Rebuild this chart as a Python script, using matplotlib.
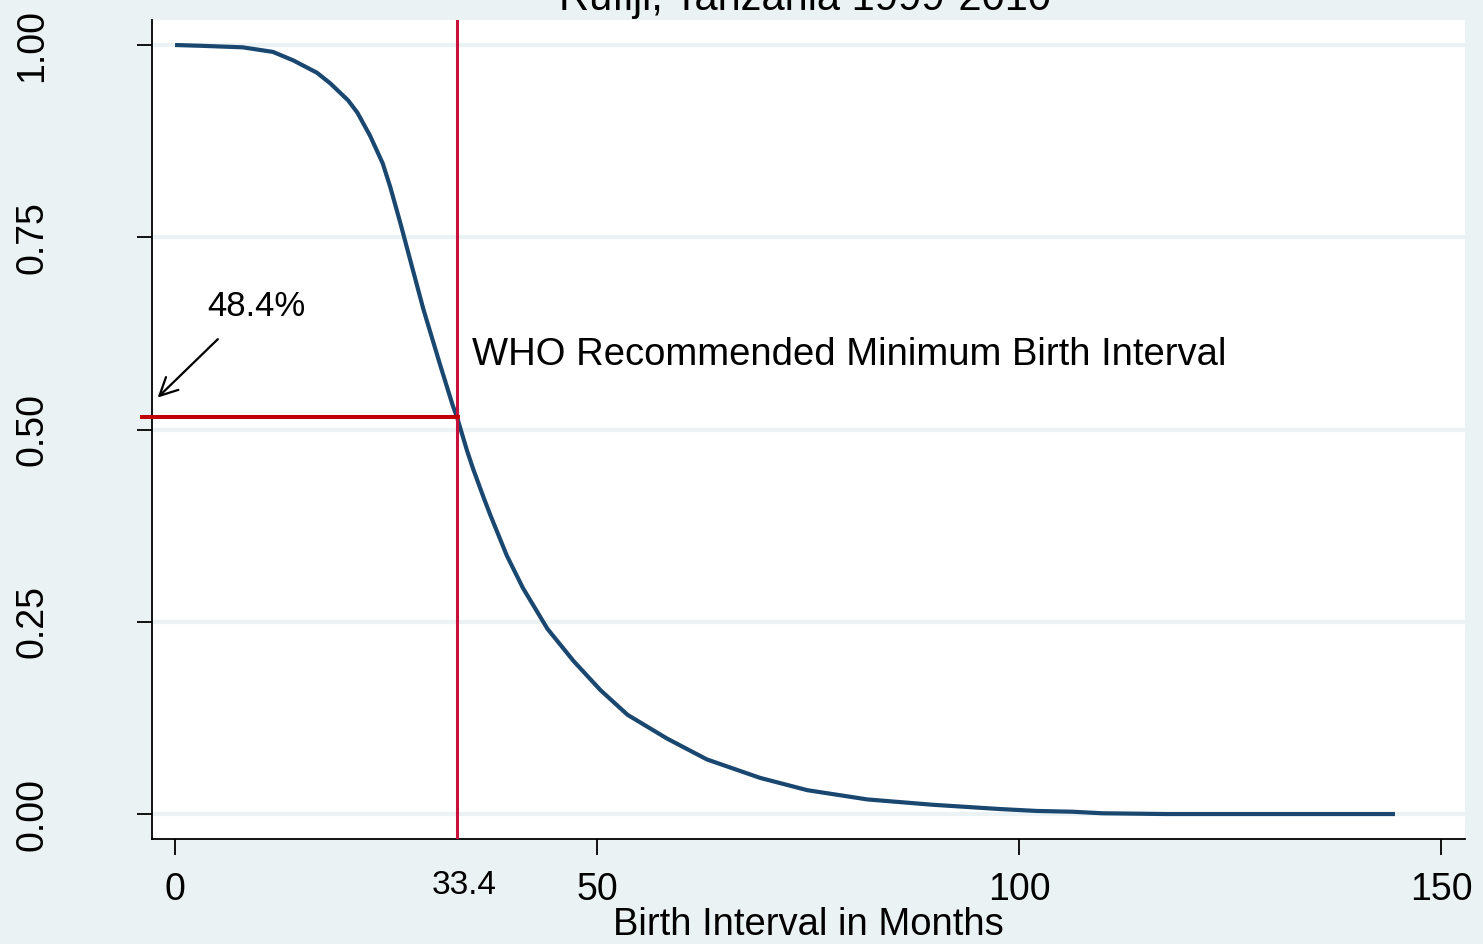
import matplotlib
matplotlib.use("Agg")
import matplotlib.pyplot as plt

plt.rcParams['font.family'] = ['Liberation Sans', 'DejaVu Sans']

# Kaplan-Meier style survival curve
months = [0, 3, 8, 11.6, 14.0, 16.8, 18.4, 20.5, 21.6, 23.1, 24.6, 25.5, 26.7, 27.5,
          29.4, 31.4, 32.9, 33.4, 34.6, 35.3, 36.5, 37.3, 39.3, 41.2, 44.1, 47.2,
          50.4, 53.6, 58.3, 63.0, 69.3, 74.9, 82.0, 89.8, 97.7, 102.1, 106.3, 109.8,
          117.4, 144.5]
survival = [1.0, 0.999, 0.997, 0.991, 0.980, 0.964, 0.950, 0.928, 0.912, 0.882, 0.846,
            0.815, 0.768, 0.735, 0.657, 0.584, 0.531, 0.516, 0.472, 0.449, 0.413,
            0.390, 0.336, 0.294, 0.241, 0.199, 0.161, 0.129, 0.098, 0.071, 0.047,
            0.031, 0.019, 0.012, 0.0065, 0.004, 0.003, 0.001, 0.0, 0.0]

who_min = 33.4
surv_at_min = 0.516
xticks = [0, 50, 100, 150]
yticks = [0.00, 0.25, 0.50, 0.75, 1.00]
ytick_labels = ['0.00', '0.25', '0.50', '0.75', '1.00']

bg = '#eaf2f3'
navy = '#1a476f'

fig = plt.figure(figsize=(14.83, 9.44), dpi=100, facecolor=bg)
ax = fig.add_axes([0.1025, 0.1112, 0.9879 - 0.1025, 0.9788 - 0.1112])
ax.set_facecolor('white')

ax.set_xlim(-2.73, 152.8)
ax.set_ylim(-0.0325, 1.0325)

for yv in yticks:
    ax.axhline(yv, color=bg, lw=3, zorder=0)

ax.plot(months, survival, color=navy, lw=3, zorder=3, solid_capstyle='butt',
        solid_joinstyle='round')
ax.axvline(who_min, color='#c8103a', lw=2.2, zorder=4)
ax.plot([-4.1, 33.8], [surv_at_min, surv_at_min], color='#c00000', lw=2.9,
        clip_on=False, zorder=4, solid_capstyle='butt')

ax.annotate('', xy=(-2.3, 0.539), xytext=(5.3, 0.620),
            arrowprops=dict(arrowstyle='->', color='black', lw=1.6,
                            mutation_scale=32), annotation_clip=False)
ax.text(9.6, 0.660, '48.4%', fontsize=25, ha='center', va='center')
ax.text(35.2, 0.597, 'WHO Recommended Minimum Birth Interval', fontsize=27.5,
        ha='left', va='center')

for s in ['top', 'right']:
    ax.spines[s].set_visible(False)
for s in ['left', 'bottom']:
    ax.spines[s].set_linewidth(1.3)

ax.set_xticks(xticks)
ax.set_xticklabels([str(v) for v in xticks], fontsize=27)
ax.set_yticks(yticks)
ax.set_yticklabels(ytick_labels, fontsize=27, rotation=90, va='center')
ax.tick_params(axis='x', direction='out', length=11.5, width=1.3, pad=12)
ax.tick_params(axis='y', direction='out', length=11, width=1.3, pad=62)

ax.text(34.3, -0.0325 - 31 / 769, '33.4', fontsize=24,
        ha='center', va='top', clip_on=False)

fig.text(0.545, 1 - 925 / 944, 'Birth Interval in Months', fontsize=27.5,
         ha='center', va='center')
fig.text(0.543, 1 - 10 / 944, 'Rufiji, Tanzania 1999-2010', fontsize=30,
         ha='center', va='baseline')

fig.savefig('out.png', dpi=100, facecolor=bg)
